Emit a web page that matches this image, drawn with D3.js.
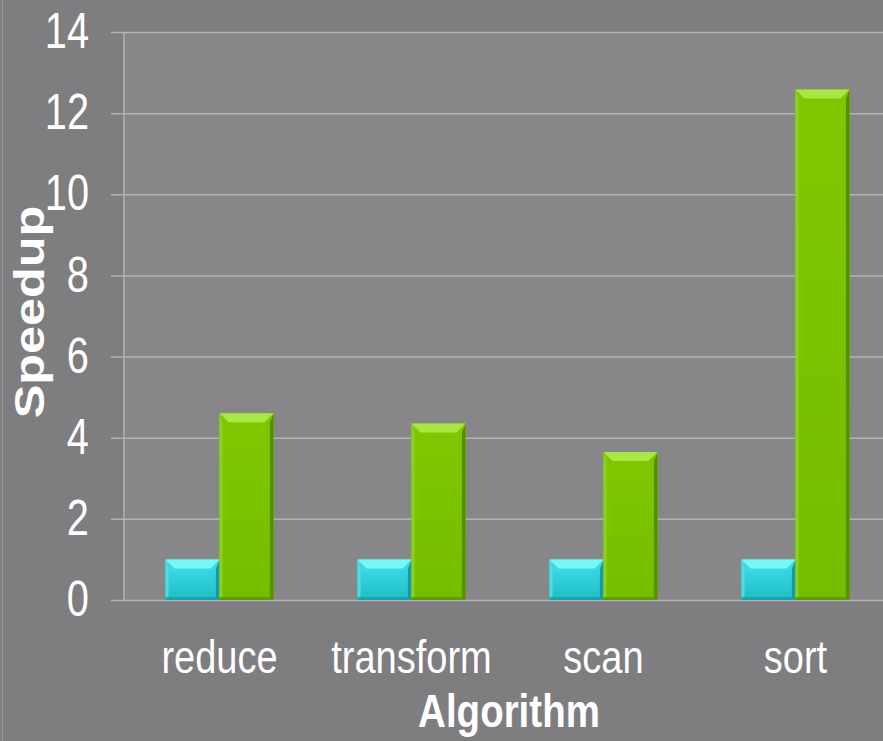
<!DOCTYPE html>
<html>
<head>
<meta charset="utf-8">
<script src="https://cdn.jsdelivr.net/npm/d3@7"></script>
<style>
  html, body { margin: 0; padding: 0; background: #7e7d7f; }
  svg { display: block; }
</style>
</head>
<body>
<div id="chart"></div>
<script>
// chart values
var categories = ["reduce", "transform", "scan", "sort"];
var series = ["baseline", "thrust"];
var baselineValues = [1, 1, 1, 1];
var thrustValues = [4.6, 4.35, 3.65, 12.58];
var yTicks = [0, 2, 4, 6, 8, 10, 12, 14];

var W = 883, H = 741;
var plot = {left: 124, top: 32, bottom: 600};

var svg = d3.select("#chart").append("svg")
  .attr("width", W)
  .attr("height", H);

// gradients for the bar faces
var defs = svg.append("defs");
var colors = {
  baseline: {top: "#3fe2ea", bottom: "#20bcc6", light: "#7af5f8", dark: "#179aa3", side: "#4fdde4"},
  thrust:   {top: "#7fc800", bottom: "#74bc00", light: "#a8e845", dark: "#568f00", side: "#8bd318"}
};
series.forEach(function(s) {
  var g = defs.append("linearGradient").attr("id", "grad-" + s)
    .attr("x1", 0).attr("x2", 0).attr("y1", 0).attr("y2", 1);
  g.append("stop").attr("offset", "0%").attr("stop-color", colors[s].top);
  g.append("stop").attr("offset", "100%").attr("stop-color", colors[s].bottom);
});

// outer background and plot area
svg.append("rect").attr("width", W).attr("height", H).attr("fill", "#7e7d7f");
svg.append("rect")
  .attr("x", plot.left).attr("y", plot.top)
  .attr("width", W - plot.left).attr("height", plot.bottom - plot.top)
  .attr("fill", "#878688");
svg.append("line")
  .attr("x1", 2.5).attr("x2", 2.5).attr("y1", 0).attr("y2", H)
  .attr("stroke", "#9a999b").attr("stroke-width", 1);

var y = d3.scaleLinear().domain([0, 14]).range([plot.bottom, plot.top]);

var x0 = d3.scaleBand().domain(categories).range([123.5, 891.5]);
var x1 = d3.scaleBand().domain(series).range([42, 150]);

// gridlines + y axis
var yAxis = d3.axisLeft(y).tickValues(yTicks).tickSize(-(W - 111)).tickFormat("");
var gy = svg.append("g")
  .attr("transform", "translate(111,0)")
  .call(yAxis);
gy.select(".domain").remove();
gy.selectAll(".tick line").attr("stroke", "#b3b2b4").attr("stroke-width", 1.5);

svg.append("line")
  .attr("x1", plot.left).attr("x2", plot.left)
  .attr("y1", y(14)).attr("y2", y(0))
  .attr("stroke", "#b3b2b4").attr("stroke-width", 1.5);

// tick labels, stretched a bit vertically like the original
svg.selectAll(".ylab").data(yTicks).enter().append("text")
  .attr("class", "ylab")
  .attr("transform", function(d) { return "translate(89," + (y(d) - 2) + ") scale(0.97,1.23)"; })
  .attr("text-anchor", "end")
  .attr("dy", "0.36em")
  .attr("font-family", "Liberation Sans, Arial, sans-serif")
  .attr("font-size", 41)
  .attr("fill", "#ffffff")
  .text(function(d) { return d; });

// bars with a bevelled look
var bars = [];
categories.forEach(function(c, i) {
  bars.push({cat: c, s: "baseline", v: baselineValues[i]});
  bars.push({cat: c, s: "thrust", v: thrustValues[i]});
});

var bw = x1.bandwidth();
var bev = 9;

var bg = svg.selectAll(".bar").data(bars).enter().append("g")
  .attr("class", "bar")
  .attr("transform", function(d) { return "translate(" + (x0(d.cat) + x1(d.s)) + "," + y(d.v) + ")"; });

bg.append("rect")
  .attr("width", bw)
  .attr("height", function(d) { return y(0) - y(d.v); })
  .attr("fill", function(d) { return "url(#grad-" + d.s + ")"; });

// top bevel
bg.append("polygon")
  .attr("points", "0,0 " + bw + ",0 " + (bw - bev) + "," + bev + " " + bev + "," + bev)
  .attr("fill", function(d) { return colors[d.s].light; });
// left bevel
bg.append("polygon")
  .attr("points", function(d) {
    var h = y(0) - y(d.v);
    return "0,0 " + bev / 3 + "," + bev + " " + bev / 3 + "," + (h - 2) + " 0," + h;
  })
  .attr("fill", function(d) { return colors[d.s].side; });
// right bevel
bg.append("polygon")
  .attr("points", function(d) {
    var h = y(0) - y(d.v);
    return bw + ",0 " + (bw - bev / 2.5) + "," + bev + " " + (bw - bev / 2.5) + "," + (h - 2) + " " + bw + "," + h;
  })
  .attr("fill", function(d) { return colors[d.s].dark; });
// bottom edge
bg.append("rect")
  .attr("y", function(d) { return y(0) - y(d.v) - 3; })
  .attr("width", bw)
  .attr("height", 3)
  .attr("fill", function(d) { return colors[d.s].dark; })
  .attr("opacity", 0.7);

// category labels
svg.selectAll(".xlab").data(categories).enter().append("text")
  .attr("class", "xlab")
  .attr("transform", function(d) { return "translate(" + (x0(d) + x0.bandwidth() / 2) + ",673) scale(1,1.2)"; })
  .attr("text-anchor", "middle")
  .attr("font-family", "Liberation Sans, Arial, sans-serif")
  .attr("font-size", 38)
  .attr("fill", "#ffffff")
  .text(function(d) { return d; });

// axis titles
svg.append("text")
  .attr("transform", "translate(509,727) scale(1,1.2)")
  .attr("text-anchor", "middle")
  .attr("font-family", "Liberation Sans, Arial, sans-serif")
  .attr("font-weight", "bold")
  .attr("font-size", 38.5)
  .attr("fill", "#ffffff")
  .text("Algorithm");

svg.append("text")
  .attr("transform", "translate(44,312) rotate(-90) scale(1.2,1)")
  .attr("text-anchor", "middle")
  .attr("font-family", "Liberation Sans, Arial, sans-serif")
  .attr("font-weight", "bold")
  .attr("font-size", 42)
  .attr("fill", "#ffffff")
  .text("Speedup");
</script>
</body>
</html>
